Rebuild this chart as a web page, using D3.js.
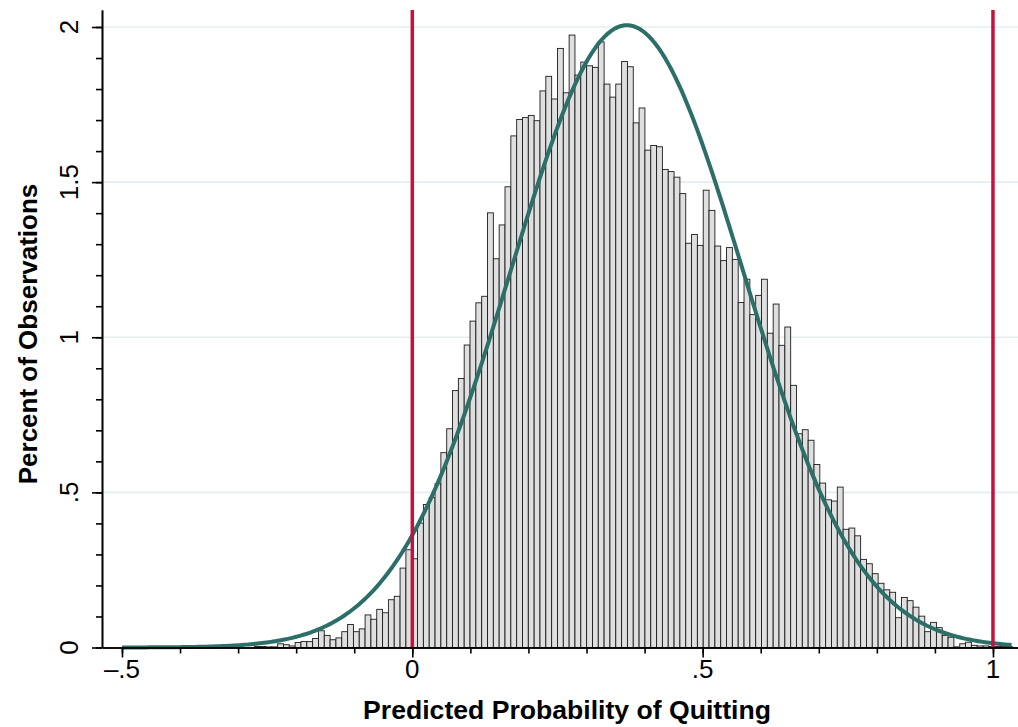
<!DOCTYPE html>
<html>
<head>
<meta charset="utf-8">
<script src="https://cdn.jsdelivr.net/npm/d3@7"></script>
<style>
  body { margin: 0; background: #fff; }
  svg { display: block; font-family: Helvetica, "Liberation Sans", Arial, sans-serif; }
</style>
</head>
<body>
<svg id="chart" width="1018" height="727"></svg>
<script>
// histogram bins: left edge of the first bin and the bin width
const firstBinLeft = -0.27208;
const binWidth = 0.01004;

// percent of observations in each bin, read left to right
const binPercents = [
  0.003, 0.003, 0.002, 0.002, 0.012, 0.009, 0.005, 0.016, 0.019, 0.019,
  0.029, 0.054, 0.039, 0.025, 0.031, 0.051, 0.074, 0.051, 0.060, 0.105,
  0.091, 0.123, 0.112, 0.154, 0.165, 0.256, 0.315,
  0.286, 0.401, 0.461, 0.483, 0.528, 0.628, 0.705, 0.828, 0.867, 0.975,
  1.052, 1.111, 1.132, 1.401, 1.253, 1.362, 1.485, 1.649, 1.702, 1.708,
  1.715, 1.698, 1.794, 1.841, 1.768, 1.931, 1.788, 1.974, 1.845, 1.887,
  1.875, 1.870, 1.952, 1.816, 1.774, 1.816, 1.889, 1.872, 1.691, 1.739,
  1.603, 1.618, 1.614, 1.541, 1.534, 1.516, 1.463, 1.303, 1.331, 1.296,
  1.474, 1.409, 1.294, 1.247, 1.289, 1.251, 1.112, 1.187, 1.073, 1.135,
  1.187, 1.013, 1.107, 0.974, 1.033, 0.845, 0.689, 0.702, 0.668, 0.590,
  0.530, 0.476, 0.472, 0.517, 0.381, 0.385, 0.360, 0.284, 0.270, 0.238,
  0.207, 0.186, 0.178, 0.096, 0.161, 0.151, 0.130, 0.101, 0.051, 0.081,
  0.064, 0.039, 0.033, 0.002, 0.012, 0.017, 0.007, 0.005, 0.005, 0.003,
  0.003, 0.003, 0.003
];

// fitted normal overlay (stata "normal" option)
const normalMean = 0.3695;
const normalSd = 0.1997;
const normalRange = [-0.5, 1.032];

// reference lines
const refLines = [0, 1];

// ticks and labels
const xTicks = [-0.5, 0, 0.5, 1];
const xTickLabels = ['\u2013.5', '0', '.5', '1'];
const xMinorTicks = d3.range(-5, 11).map(d => d / 10);
const yTicks = [0, 0.5, 1, 1.5, 2];
const yTickLabels = ['0', '.5', '1', '1.5', '2'];
const yMinorTicks = d3.range(0, 21).map(d => d / 10);

const xTitle = 'Predicted Probability of Quitting';
const yTitle = 'Percent of Observations';

const svg = d3.select('#chart');

const x = d3.scaleLinear().domain([-0.5344, 1.0431]).range([102, 1018]);
const y = d3.scaleLinear().domain([0, 2.0548]).range([647.5, 10]);

// grid lines
svg.append('g')
  .selectAll('line')
  .data(yTicks.filter(d => d > 0))
  .enter()
  .append('line')
  .attr('x1', 102)
  .attr('x2', 1018)
  .attr('y1', d => y(d))
  .attr('y2', d => y(d))
  .attr('stroke', '#e4eef0')
  .attr('stroke-width', 1.6);

// bars
const bins = binPercents.map(function(v, i) {
  return { x0: firstBinLeft + i * binWidth, x1: firstBinLeft + (i + 1) * binWidth, value: v };
});

svg.append('g')
  .attr('class', 'bars')
  .selectAll('rect')
  .data(bins)
  .enter()
  .append('rect')
  .attr('x', d => x(d.x0))
  .attr('width', d => x(d.x1) - x(d.x0))
  .attr('y', d => y(d.value))
  .attr('height', d => y(0) - y(d.value))
  .attr('fill', '#dfdfdf')
  .attr('stroke', '#1c1c1c')
  .attr('stroke-width', 0.9);

// normal density scaled to percent per bin
const curveXs = d3.range(0, 401).map(i => normalRange[0] + (normalRange[1] - normalRange[0]) * i / 400);
const density = function(v) {
  const z = (v - normalMean) / normalSd;
  return 100 * binWidth * Math.exp(-0.5 * z * z) / (normalSd * Math.sqrt(2 * Math.PI));
};
const line = d3.line()
  .x(d => x(d))
  .y(d => y(density(d)));

svg.append('path')
  .datum(curveXs)
  .attr('d', line)
  .attr('fill', 'none')
  .attr('stroke', '#2c6e68')
  .attr('stroke-width', 4);

// red reference lines
svg.append('g')
  .selectAll('line')
  .data(refLines)
  .enter()
  .append('line')
  .attr('x1', d => x(d))
  .attr('x2', d => x(d))
  .attr('y1', 10)
  .attr('y2', y(0))
  .attr('stroke', '#c8103c')
  .attr('stroke-width', 3.5);

// x axis
svg.append('g')
  .attr('transform', 'translate(0,' + y(0) + ')')
  .call(d3.axisBottom(x).tickValues(xMinorTicks).tickSize(6).tickSizeOuter(0).tickFormat(''));
svg.append('g')
  .attr('transform', 'translate(0,' + y(0) + ')')
  .call(d3.axisBottom(x).tickValues(xTicks).tickSize(10).tickSizeOuter(0).tickFormat(''));

svg.append('g')
  .selectAll('text')
  .data(xTicks)
  .enter()
  .append('text')
  .attr('x', d => x(d))
  .attr('y', 678)
  .attr('text-anchor', 'middle')
  .attr('font-size', 26)
  .attr('fill', '#000')
  .text((d, i) => xTickLabels[i]);

// y axis
svg.append('g')
  .attr('transform', 'translate(102,0)')
  .call(d3.axisLeft(y).tickValues(yMinorTicks).tickSize(6).tickSizeOuter(0).tickFormat(''));
svg.append('g')
  .attr('transform', 'translate(102,0)')
  .call(d3.axisLeft(y).tickValues(yTicks).tickSize(10).tickSizeOuter(0).tickFormat(''));
svg.selectAll('.domain, .tick line').attr('stroke', '#000').attr('stroke-width', 1.6);

svg.append('g')
  .selectAll('text')
  .data(yTicks)
  .enter()
  .append('text')
  .attr('transform', d => 'translate(78,' + y(d) + ') rotate(-90)')
  .attr('text-anchor', 'middle')
  .attr('font-size', 26)
  .attr('fill', '#000')
  .text((d, i) => yTickLabels[i]);

// titles
svg.append('text')
  .attr('x', 567)
  .attr('y', 719)
  .attr('text-anchor', 'middle')
  .attr('font-size', 26.6)
  .attr('font-weight', 'bold')
  .text(xTitle);

svg.append('text')
  .attr('transform', 'translate(37,334) rotate(-90)')
  .attr('text-anchor', 'middle')
  .attr('font-size', 26)
  .attr('font-weight', 'bold')
  .text(yTitle);
</script>
</body>
</html>
